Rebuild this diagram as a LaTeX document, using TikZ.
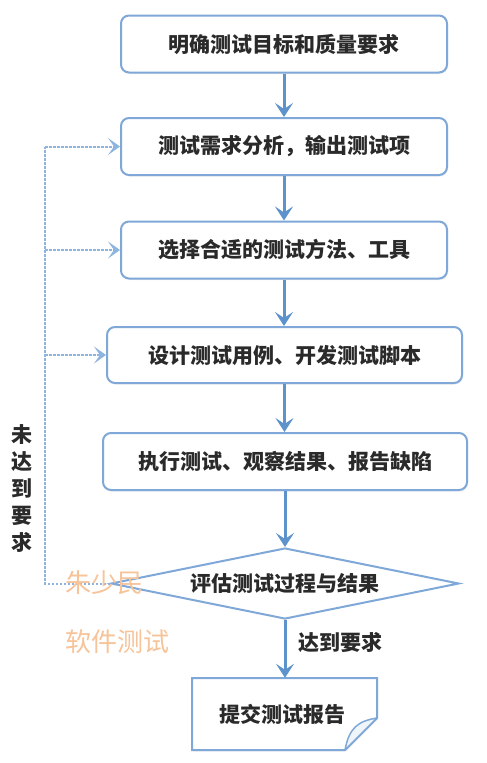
\documentclass[tikz,border=0pt]{standalone}
\usepackage{fontspec}
\setmainfont{Noto Sans CJK SC}
\newfontfamily\cjk{Noto Sans CJK SC}
\usetikzlibrary{shapes.geometric,arrows.meta,shadows,calc}
\definecolor{boxline}{HTML}{7FA8D8}
\definecolor{arrowc}{HTML}{5E92CB}
\definecolor{dashc}{HTML}{8EB4E0}
\definecolor{txt}{HTML}{2A2A2A}
\definecolor{wm}{HTML}{F7C49A}
\begin{document}
\begin{tikzpicture}[x=1pt,y=-1pt,
  stepbox/.style={draw=boxline,line width=2pt,rounded corners=8pt,fill=white,
    minimum height=57pt,inner sep=0pt,font=\fontsize{21}{24}\selectfont\bfseries,text=txt,
    drop shadow={opacity=0.12,shadow xshift=1pt,shadow yshift=-1.5pt}},
  decide/.style={diamond,draw=boxline,line width=2pt,fill=white,aspect=4.9,
    minimum width=348pt,minimum height=71pt,inner sep=0pt,
    font=\fontsize{21}{24}\selectfont\bfseries,text=txt},
  flow/.style={draw=arrowc,line width=3pt,-{Stealth[length=14pt,width=18pt,inset=6pt]}},
  back/.style={draw=dashc,line width=2pt,dash pattern=on 2.5pt off 1.5pt,
    -{Stealth[length=12pt,width=17pt,inset=6pt]}},
  backline/.style={draw=dashc,line width=2pt,dash pattern=on 2.5pt off 1.5pt},
  lbl/.style={font=\fontsize{21}{27}\selectfont\bfseries,text=txt,inner sep=0pt},
  wmark/.style={font=\fontsize{26}{30}\selectfont,text=wm,inner sep=0pt}]
\useasboundingbox (0,0) rectangle (487,763);
\fill[white] (0,0) rectangle (487,763);

\node[stepbox,minimum width=326pt] (b1) at (284,44) {明确测试目标和质量要求};
\node[stepbox,minimum width=326pt] (b2) at (284,146.5) {测试需求分析，输出测试项};
\node[stepbox,minimum width=326pt] (b3) at (284,250) {选择合适的测试方法、工具};
\node[stepbox,minimum width=355pt,minimum height=56pt] (b4) at (284.5,355) {设计测试用例、开发测试脚本};
\node[stepbox,minimum width=364pt] (b5) at (285,461.5) {执行测试、观察结果、报告缺陷};
\node[decide] (d) at (285,583.5) {评估测试过程与结果};

% document shape
\draw[draw=boxline,line width=2pt,fill=white,
  drop shadow={opacity=0.12,shadow xshift=1pt,shadow yshift=-1.5pt}]
  (192,678) -- (377,678) -- (377,718) -- (345,750) -- (192,750) -- cycle;
\draw[draw=boxline,line width=1.5pt,fill=boxline!12,line join=round]
  (377,718) .. controls (358,721) and (349,728) .. (345,750) -- cycle;
\node[lbl,font=\fontsize{21}{24}\selectfont\bfseries,minimum width=185pt,minimum height=72pt] (doc) at (282,714) {提交测试报告};

% main flow
\draw[flow] (b1.south) -- (b1.south |- b2.north);
\draw[flow] (b2.south) -- (b2.south |- b3.north);
\draw[flow] (b3.south) -- (b3.south |- b4.north);
\draw[flow] (b4.south) -- (b4.south |- b5.north);
\draw[flow] (b5.south) -- (b5.south |- d.north);
\draw[flow] (d.south) -- (d.south |- doc.north);

% feedback
\coordinate (c) at (45,583.5);
\draw[backline] (d.west) -- (c) -- (c |- b2.west);
\draw[back] (c |- b2.west) -- (b2.west);
\draw[back] (c |- b3.west) -- (b3.west);
\draw[back] (c |- b4.west) -- (b4.west);

\node[lbl,align=center] (nl) at (22,489) {未\\达\\到\\要\\求};
\node[lbl,anchor=west] (yl) at (298,642) {达到要求};

\node[wmark,anchor=west] (w1) at (65,583) {朱少民};
\node[wmark,anchor=west] (w2) at (65,642) {软件测试};
\end{tikzpicture}
\end{document}
